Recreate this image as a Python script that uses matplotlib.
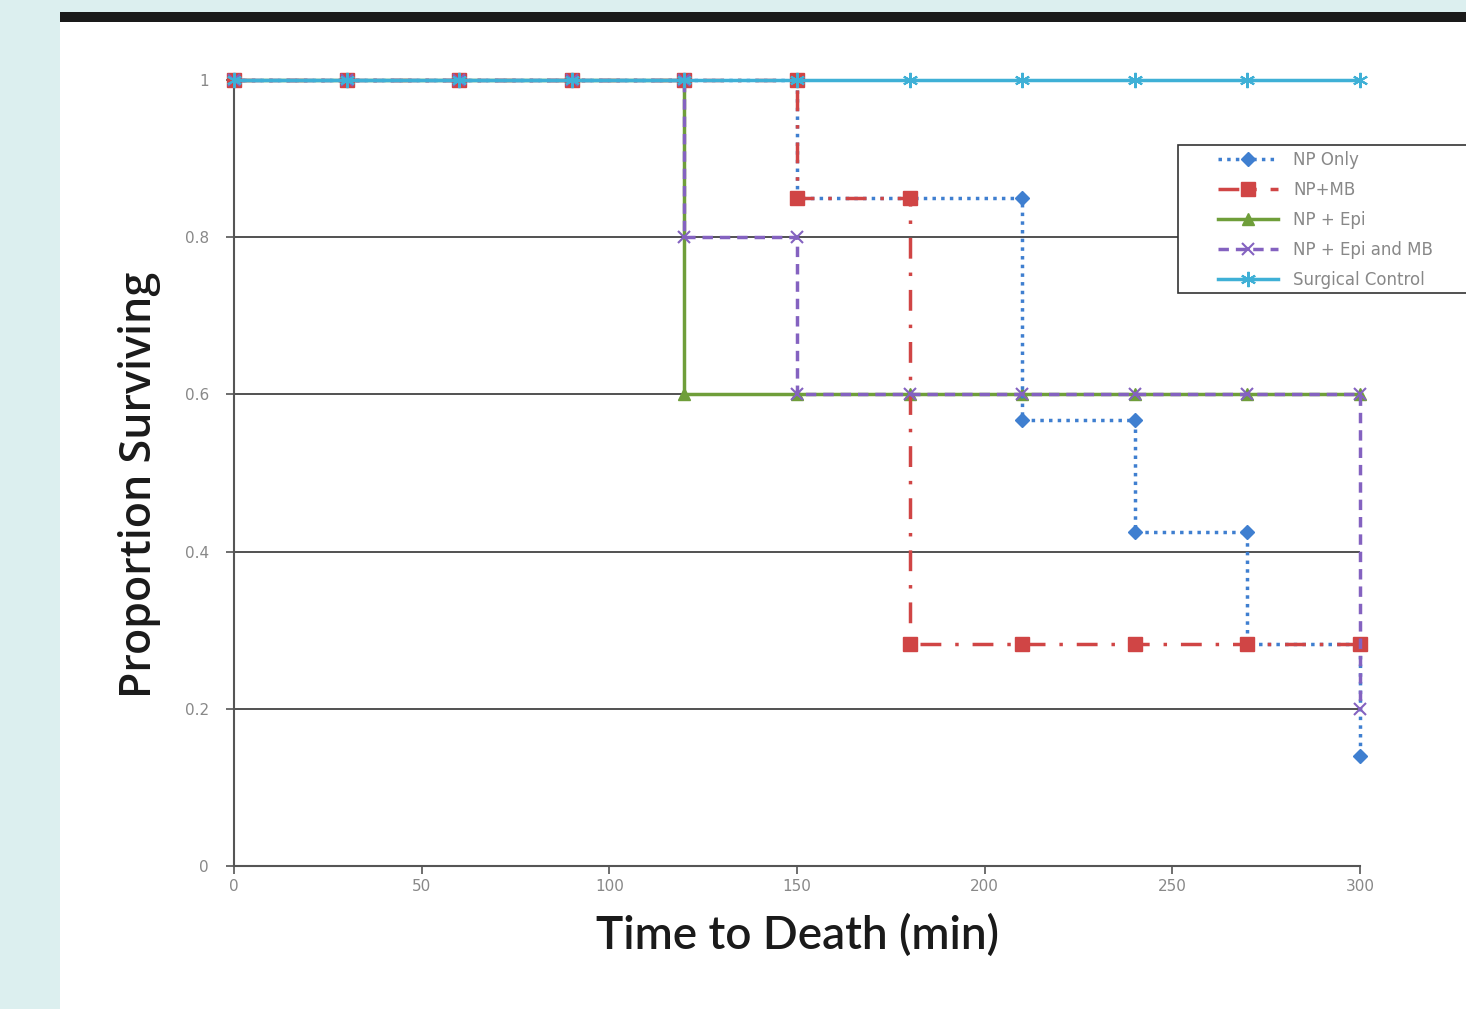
import matplotlib.pyplot as plt
from matplotlib.patches import Rectangle

# Kaplan-Meier style step data (each drop drawn as two points at the same time)
np_only_t = [0, 30, 60, 90, 120, 150, 150, 180, 210, 210, 240, 240, 270, 270, 300, 300]
np_only_s = [1, 1, 1, 1, 1, 1, 0.85, 0.85, 0.85, 0.567, 0.567, 0.425, 0.425, 0.283, 0.283, 0.14]

np_mb_t = [0, 30, 60, 90, 120, 150, 150, 180, 180, 210, 240, 270, 300]
np_mb_s = [1, 1, 1, 1, 1, 1, 0.85, 0.85, 0.283, 0.283, 0.283, 0.283, 0.283]

np_epi_t = [0, 30, 60, 90, 120, 120, 150, 180, 210, 240, 270, 300]
np_epi_s = [1, 1, 1, 1, 1, 0.6, 0.6, 0.6, 0.6, 0.6, 0.6, 0.6]

np_epi_mb_t = [0, 30, 60, 90, 120, 120, 150, 150, 180, 210, 240, 270, 300, 300]
np_epi_mb_s = [1, 1, 1, 1, 1, 0.8, 0.8, 0.6, 0.6, 0.6, 0.6, 0.6, 0.6, 0.2]

control_t = [0, 30, 60, 90, 120, 150, 180, 210, 240, 270, 300]
control_s = [1, 1, 1, 1, 1, 1, 1, 1, 1, 1, 1]

W, H = 1466, 1009
fig = plt.figure(figsize=(W / 100, H / 100), dpi=100)
fig.patch.set_facecolor("#dcefef")

# white page panel and black rule at the top
fig.patches.append(Rectangle((60 / W, 0), 1, 1 - 20 / H, transform=fig.transFigure,
                             facecolor="white", edgecolor="none", zorder=-10))
fig.patches.append(Rectangle((60 / W, 1 - 22 / H), 1, 10 / H, transform=fig.transFigure,
                             facecolor="#1a1a1a", edgecolor="none", zorder=-9))

ax = fig.add_axes([234 / W, 1 - 866 / H, (1360 - 234) / W, (866 - 80) / H])
ax.set_facecolor("none")
ax.set_zorder(5)

star = (6, 2, 0)
ax.plot(np_epi_t, np_epi_s, color="#6f9e3a", lw=2.5, ls="-", marker="^", ms=8,
        label="NP + Epi", clip_on=False, zorder=3)
ax.plot(np_only_t, np_only_s, color="#3f7fd0", lw=2.5, ls=(0, (1, 1.5)), marker="D", ms=7,
        label="NP Only", clip_on=False, zorder=4)
ax.plot(np_mb_t, np_mb_s, color="#d04545", lw=2.5, ls=(0, (6, 4, 1, 4)), marker="s", ms=10,
        label="NP+MB", clip_on=False, zorder=4)
ax.plot(np_epi_mb_t, np_epi_mb_s, color="#8462c0", lw=2.5, ls=(0, (3, 2)), marker="x", ms=9,
        mew=1.5, label="NP + Epi and MB", clip_on=False, zorder=5)
ax.plot(control_t, control_s, color="#3fb0d6", lw=2.5, ls="-", marker=star, ms=11,
        mew=1.5, label="Surgical Control", clip_on=False, zorder=6)

ax.set_xlim(0, 300)
ax.set_ylim(0, 1)
ax.set_xticks([0, 50, 100, 150, 200, 250, 300])
ax.set_yticks([0, 0.2, 0.4, 0.6, 0.8, 1])
ax.set_yticklabels(["0", "0.2", "0.4", "0.6", "0.8", "1"])
ax.yaxis.grid(True, color="#333333", lw=1.2)
ax.set_axisbelow(True)
for side in ["top", "right"]:
    ax.spines[side].set_visible(False)
for side in ["left", "bottom"]:
    ax.spines[side].set_color("#555555")
    ax.spines[side].set_linewidth(1.5)
ax.tick_params(axis="both", direction="out", length=6, width=1.2, color="#555555",
               labelcolor="#888888", labelsize=11)
ax.tick_params(axis="y", pad=12)
for lbl in ax.get_xticklabels() + ax.get_yticklabels():
    lbl.set_family("Liberation Sans Narrow")

ax.set_xlabel("Time to Death (min)", fontsize=33, family="Lato", fontweight="semibold",
              color="#1a1a1a", labelpad=14)
ax.set_ylabel("Proportion Surviving", fontsize=31, family="Open Sans", fontweight="semibold",
              color="#1a1a1a")
ax.yaxis.set_label_coords(-0.065, 0.485)

# legend box runs off the right edge of the page, as in the source
box = Rectangle((1178 / W, 1 - 293 / H), 320 / W, 148 / H, transform=fig.transFigure,
                facecolor="white", edgecolor="#333333", lw=1.2, clip_on=False, zorder=7)
ax.add_patch(box)

handles, labels = ax.get_legend_handles_labels()
order = [1, 2, 0, 3, 4]
leg = ax.legend([handles[i] for i in order], [labels[i] for i in order],
                loc="upper left", bbox_to_anchor=(1218 / W, 1 - 151 / H),
                bbox_transform=fig.transFigure, frameon=False,
                fontsize=12, handlelength=3.6, handletextpad=0.9, borderpad=0,
                labelspacing=0.72, borderaxespad=0)
leg.set_zorder(8)
for t in leg.get_texts():
    t.set_color("#888888")
    t.set_family("Liberation Sans Narrow")

fig.savefig("out.png", dpi=100)
